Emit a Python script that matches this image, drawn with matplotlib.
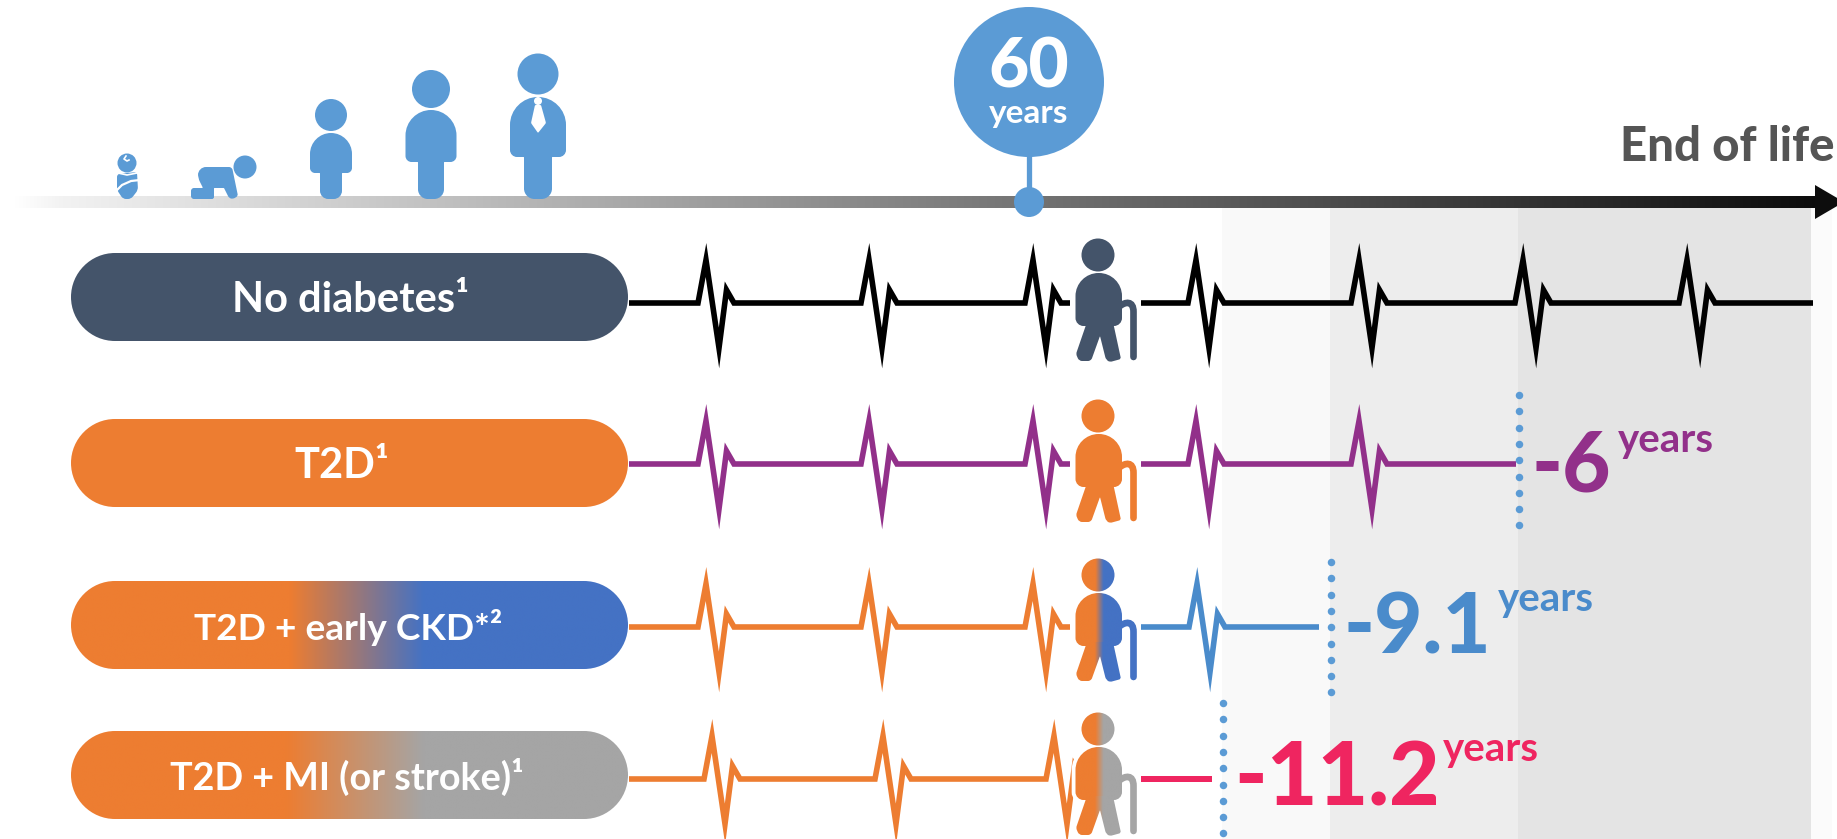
import numpy as np
import matplotlib
matplotlib.use("Agg")
import matplotlib.pyplot as plt
from matplotlib.colors import to_rgb
from matplotlib.patches import Circle, PathPatch, Polygon, Rectangle
from matplotlib.path import Path

plt.rcParams['font.family'] = ['Lato', 'DejaVu Sans']

# Datos de cada fila
row_labels = ['No diabetes¹', 'T2D¹', 'T2D + early CKD*²', 'T2D + MI (or stroke)¹']
years_lost = [0, 6, 9.1, 11.2]
cutoff_x = [1813, 1516, 1319, 1212]
dots_x = [None, 1519, 1331, 1223]
beats_before = [[706, 869, 1033], [706, 869, 1033], [706, 869, 1033], [712, 883, 1054]]
beats_after = [[1196, 1359, 1523, 1687], [1196, 1359], [1197], []]
band_edges = [1222, 1330, 1518, 1811, 1832]
band_greys = ['#f9f9f9', '#ededed', '#e4e4e4', '#fbfbfb']

DARK = '#44546a'
ORANGE = '#ed7d31'
BLUE = '#4472c4'
GREY = '#a5a5a5'
SKY = '#5b9bd5'
PURPLE = '#92308a'
STEEL = '#4a8bcb'
PINK = '#ef2560'

pill_left = [DARK, ORANGE, ORANGE, ORANGE]
pill_right = [DARK, ORANGE, BLUE, GREY]
pill_fade = [None, None, (290, 424), (286, 424)]
line_left = ['black', PURPLE, ORANGE, ORANGE]
line_right = ['black', PURPLE, STEEL, PINK]
baselines = [303, 464, 627, 779]
pill_tops = [253, 419, 581, 731]
text_bases = [312, 478, 640, 790]
text_centres = [350, 341.5, 348.5, 347]
text_sizes = [30, 30, 26.7, 27.2]
person_shift = [0, 161, 320, 474]

# Forma de un latido respecto al pico
beat_dx = np.array([-8, 0, 13, 20.5, 28])
beat_dy = np.array([0, -43, 45, -13, 0])


def rounded(points, radii):
    """Polígono con esquinas redondeadas (Bézier)."""
    pts = np.array(points, dtype=float)
    if np.isscalar(radii):
        radii = [radii] * len(pts)
    verts, codes = [], []
    n = len(pts)
    for i in range(n):
        p, a, b = pts[i], pts[i - 1], pts[(i + 1) % n]
        d1 = (p - a) / np.linalg.norm(p - a)
        d2 = (b - p) / np.linalg.norm(b - p)
        r = radii[i]
        start, end = p - d1 * r, p + d2 * r
        verts.append(start)
        codes.append(Path.MOVETO if i == 0 else Path.LINETO)
        verts += [start + d1 * r * 0.55, end - d2 * r * 0.55, end]
        codes += [Path.CURVE4] * 3
    verts.append(verts[0])
    codes.append(Path.CLOSEPOLY)
    return Path(np.array(verts), codes)


def circle_path(cx, cy, r):
    return Path(Path.unit_circle().vertices * r + [cx, cy], Path.unit_circle().codes)


def miter_ribbon(xs, ys, width):
    """Contorno de una polilínea con puntas en inglete sin límite."""
    pts = np.column_stack([xs, ys]).astype(float)
    seg = np.diff(pts, axis=0)
    seg /= np.linalg.norm(seg, axis=1, keepdims=True)
    normals = np.column_stack([-seg[:, 1], seg[:, 0]])
    left, right = [], []
    for i, p in enumerate(pts):
        if i == 0:
            off = normals[0]
        elif i == len(pts) - 1:
            off = normals[-1]
        else:
            m = normals[i - 1] + normals[i]
            m /= np.linalg.norm(m)
            off = m / np.dot(m, normals[i])
        left.append(p + off * width / 2)
        right.append(p - off * width / 2)
    return np.array(left + right[::-1])


def gradient_fill(ax, path, left, right, x0, x1, zorder):
    """Rellena path con un degradado horizontal de left a right."""
    ext = path.get_extents()
    grid = np.linspace(ext.x0 - 1, ext.x1 + 1, 300)
    t = np.clip((grid - x0) / (x1 - x0), 0, 1)
    rgb = np.outer(1 - t, to_rgb(left)) + np.outer(t, to_rgb(right))
    im = ax.imshow(rgb[np.newaxis, :, :], extent=(grid[0], grid[-1], ext.y1 + 1, ext.y0 - 1),
                   aspect='auto', interpolation='bilinear', zorder=zorder)
    im.set_clip_path(PathPatch(path, transform=ax.transData))


def ecg(ax, peaks, base, x_start, x_end, color):
    xs, ys = [x_start], [base]
    for pk in peaks:
        xs.extend(pk + beat_dx)
        ys.extend(base + beat_dy)
    xs.append(x_end)
    ys.append(base)
    ax.add_patch(Polygon(miter_ribbon(xs, ys, 5.6), closed=True, fc=color, ec='none', zorder=3))


def person(ax, dy, left, right):
    """Persona mayor con bastón."""
    parts = [
        circle_path(1098, 255 + dy, 16.5),
        rounded([(1075.5, 326 + dy), (1075.5, 273 + dy), (1122, 273 + dy), (1122, 326 + dy)], [8, 23, 23, 8]),
        rounded([(1087, 322 + dy), (1076, 354 + dy), (1079, 361 + dy), (1091, 361 + dy), (1100, 336 + dy),
                 (1106, 360 + dy), (1110, 362 + dy), (1121, 359 + dy), (1113, 322 + dy)],
                [1, 2, 3, 3, 1, 3, 2, 2, 1]),
    ]
    cane = Path([(1120, 306 + dy), (1125, 302 + dy), (1133.5, 300 + dy), (1133.5, 312 + dy), (1133.5, 357 + dy)],
                [Path.MOVETO, Path.CURVE4, Path.CURVE4, Path.CURVE4, Path.LINETO])
    ax.add_patch(PathPatch(cane, fc='none', ec='white', lw=8, capstyle='round', zorder=4))
    for part in parts:
        ax.add_patch(PathPatch(part, fc='white', ec='white', lw=5.5, zorder=4))
    ax.add_patch(PathPatch(cane, fc='none', ec=right, lw=4.8, capstyle='round', zorder=5))
    for part in parts:
        if left == right:
            ax.add_patch(PathPatch(part, fc=left, ec='none', zorder=6))
        else:
            gradient_fill(ax, part, left, right, 1095, 1103, 6)


def standing(ax, cx, head_y, head_r, body, top, waist, leg, foot, corner):
    ax.add_patch(Circle((cx, head_y), head_r, fc=SKY, ec='none', zorder=5))
    pts = [(cx - body, waist), (cx - body, top), (cx + body, top), (cx + body, waist),
           (cx + leg, waist), (cx + leg, foot), (cx - leg, foot), (cx - leg, waist)]
    rad = [corner, body, body, corner, 0.5, leg * 0.75, leg * 0.75, 0.5]
    ax.add_patch(PathPatch(rounded(pts, rad), fc=SKY, ec='none', zorder=5))


fig = plt.figure(figsize=(18.37, 8.39), dpi=100)
ax = fig.add_axes([0, 0, 1, 1])

# Bandas de fondo
for i, shade in enumerate(band_greys):
    ax.add_patch(Rectangle((band_edges[i], 208), band_edges[i + 1] - band_edges[i], 631, fc=shade, ec='none', zorder=0))

# Eje temporal con degradado
bar_x = np.linspace(14, 1815, 600)
levels = np.interp(bar_x, [14, 60, 1815], [1.0, 0.95, 0.05])
bar = np.column_stack([levels] * 3)
ax.imshow(bar[np.newaxis, :, :], extent=(14, 1815, 208, 196), aspect='auto', interpolation='bilinear', zorder=1)
ax.add_patch(Polygon([(1815, 185), (1844, 202), (1815, 219)], closed=True, fc='#0d0d0d', ec='none', zorder=2))
ax.text(1620, 161, 'End of life', fontsize=34, fontweight='black', color='#555555', va='baseline', ha='left', zorder=7)

# Marcador de los 60 años
ax.plot([1029, 1029], [150, 200], color=SKY, lw=3.8, solid_capstyle='butt', zorder=4)
ax.add_patch(Circle((1029, 82), 75, fc=SKY, ec='none', zorder=4))
ax.add_patch(Circle((1029, 202), 15, fc=SKY, ec='none', zorder=4))
ax.text(1029, 87, '60', fontsize=50, fontweight='black', color='white', ha='center', va='baseline', zorder=7)
ax.text(1029, 123, 'years', fontsize=24, fontweight='bold', color='white', ha='center', va='baseline', zorder=7)

# Iconos de las etapas de la vida
ax.add_patch(Circle((127, 163), 9.5, fc=SKY, ec='none', zorder=5))
ax.plot([126, 124, 127, 129], [156, 159, 161, 160], color='white', lw=1.2, zorder=6)
ax.add_patch(PathPatch(rounded([(117, 174), (137, 172), (138, 190), (131, 199), (123, 199), (117, 190)], 3),
                       fc=SKY, ec='none', zorder=5))
ax.plot([116, 122, 131, 140], [191, 185, 181, 180], color='white', lw=1.6, zorder=6)
ax.plot([118, 127, 137], [173, 175, 173], color='white', lw=1.2, zorder=6)
ax.add_patch(Circle((245, 167), 11.5, fc=SKY, ec='none', zorder=5))
ax.add_patch(PathPatch(rounded([(198, 167), (232, 167), (238, 196), (233, 199), (229, 198), (224, 188), (214, 188),
                                (214, 199), (191, 199), (191, 188), (203, 188), (198, 178)],
                               [8, 3, 2, 2, 2, 0.5, 0.5, 2, 3, 3, 1, 4]),
                       fc=SKY, ec='none', zorder=5))
standing(ax, 331, 115, 16, 21, 133, 173, 11, 199, 5)
standing(ax, 431, 89, 19, 25.5, 110, 162, 13, 199, 6)
standing(ax, 538, 74, 20.5, 28, 97, 157, 14, 199, 7)
ax.add_patch(Circle((538, 101), 4, fc='white', ec='none', zorder=6))
ax.add_patch(PathPatch(rounded([(535, 105), (541, 105), (546, 123), (538, 133), (531, 123)], 1),
                       fc='white', ec='none', zorder=6))

# Filas
for i, label in enumerate(row_labels):
    top = pill_tops[i]
    pill = rounded([(71, top), (628, top), (628, top + 88), (71, top + 88)], 44)
    if pill_fade[i] is None:
        ax.add_patch(PathPatch(pill, fc=pill_left[i], ec='none', zorder=3))
    else:
        gradient_fill(ax, pill, pill_left[i], pill_right[i], pill_fade[i][0], pill_fade[i][1], 3)
    ax.text(text_centres[i], text_bases[i], label, fontsize=text_sizes[i], fontweight='bold', color='white',
            ha='center', va='baseline', zorder=7)

    base = baselines[i]
    ecg(ax, beats_before[i], base, 629, 1070 if i < 3 else 1084, line_left[i])
    ecg(ax, beats_after[i], base, 1141, cutoff_x[i], line_right[i])
    person(ax, person_shift[i], pill_left[i], pill_right[i])

# Líneas punteadas de fin de vida
for x, y0 in zip(dots_x[1:], [395, 562, 703]):
    ax.plot([x] * 9, y0 + np.arange(9) * 16.3, ls='none', marker='o', ms=5.4, mfc=SKY, mec='none', zorder=5)

# Años perdidos
loss_colors = [PURPLE, STEEL, PINK]
loss_sizes = [60, 60, 63]
loss_x = [1532, 1344, 1234]
loss_base = [492, 653, 805]
unit_x = [1618, 1498, 1443]
unit_base = [452, 611, 761]
for v, c, s, x, y, ux, uy in zip(years_lost[1:], loss_colors, loss_sizes, loss_x, loss_base, unit_x, unit_base):
    ax.text(x, y, f'-{v:g}', fontsize=s, fontweight='black', color=c, ha='left', va='baseline', zorder=7)
    ax.text(ux, uy, 'years', fontsize=29, fontweight='bold', color=c, ha='left', va='baseline', zorder=7)

ax.set_xlim(0, 1837)
ax.set_ylim(839, 0)
ax.axis('off')
fig.savefig('out.png', dpi=100, facecolor='white')
